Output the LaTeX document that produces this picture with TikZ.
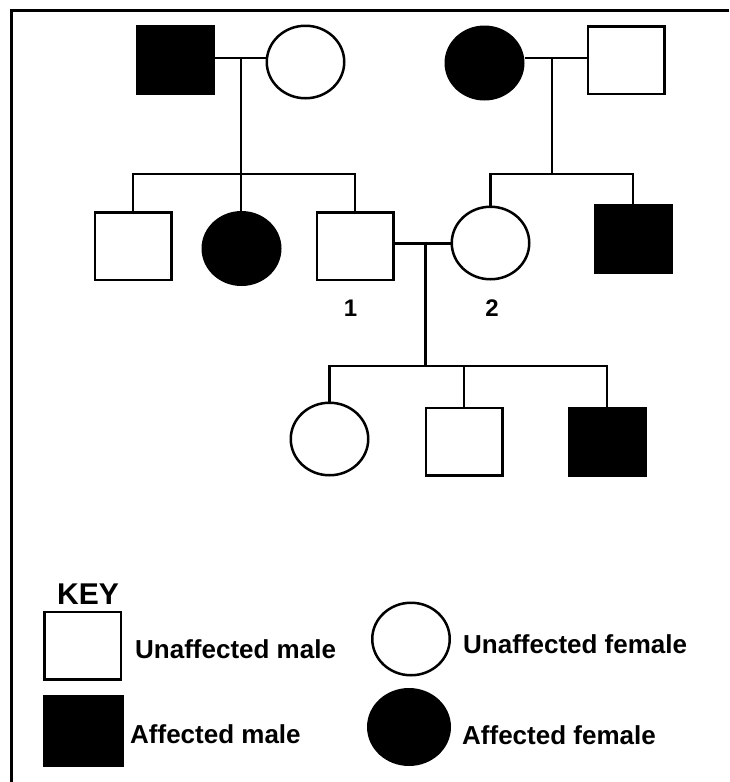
\documentclass[tikz,border=0pt]{standalone}
\usepackage{fontspec}
\setmainfont{Liberation Sans}
\usetikzlibrary{shapes.geometric}
\begin{document}
\begin{tikzpicture}[x=1pt,y=-1pt,
  male/.style={draw=black,line width=2.5pt,fill=white,rectangle,minimum width=76.5pt,minimum height=67.5pt,inner sep=0pt},
  amale/.style={male,fill=black},
  female/.style={draw=black,line width=2.5pt,fill=white,ellipse,minimum width=77.5pt,minimum height=72.5pt,inner sep=0pt},
  afemale/.style={female,fill=black},
  link/.style={line width=2.2pt},
  frame/.style={line width=3pt},
  lbl/.style={font=\bfseries\fontsize{24}{26}\selectfont,inner sep=0pt},
  keytxt/.style={font=\bfseries\fontsize{26}{28}\selectfont,inner sep=0pt,anchor=base west}]
\useasboundingbox (0,0) rectangle (729,782);
% frame
\coordinate (ftl) at (11,10);
\coordinate (ftr) at (729,10);
\coordinate (fbl) at (11,782);
\draw[frame] (ftr) -- (ftl) -- (fbl);
% generation I
\node[amale] (A) at (175.5,60) {};
\node[female] (B) at (305.5,62) {};
\node[afemale] (C) at (484.5,63) {};
\node[male] (D) at (626,60) {};
\coordinate (m1) at (241,58);
\coordinate (m2) at (552,58);
\draw[link] (A.east |- m1) -- (B.west |- m1);
\draw[link] (C.east |- m2) -- (D.west |- m2);
% generation II
\node[male] (E) at (133,246) {};
\node[afemale] (F) at (241.5,248.5) {};
\node[male] (G) at (355,246) {};
\node[female] (H) at (490.5,243) {};
\node[amale] (I) at (633,239) {};
\coordinate (s1) at (241,174);
\coordinate (s2) at (552,174);
\draw[link] (m1) -- (s1);
\draw[link] (m2) -- (s2);
\draw[link] (E.north) |- (s1) -| (G.north);
\draw[link] (s1) -- (s1 |- F.north);
\draw[link] (H.north) |- (s2) -| (I.north);
\coordinate (m3) at (425.5,243.5);
\draw[link] (G.east |- m3) -- (H.west |- m3);
\node[lbl] (n1) at (350.5,308.5) {1};
\node[lbl] (n2) at (492,308.5) {2};
% generation III
\node[female] (J) at (329.5,439) {};
\node[male] (K) at (464,441.5) {};
\node[amale] (L) at (607,441.5) {};
\coordinate (s3) at (425.5,366);
\draw[link] (m3) -- (s3);
\draw[link] (J.north) |- (s3) -| (L.north);
\draw[link] (K.north) -- (K.north |- s3);
% key
\node[font=\bfseries\fontsize{30}{32}\selectfont,inner sep=0pt] (key) at (88,594) {KEY};
\node[male] (k1) at (82.5,645.5) {};
\node[keytxt] (t1) at (135,658) {Unaffected male};
\node[female] (k2) at (411,639) {};
\node[keytxt] (t2) at (463,653) {Unaffected female};
\node[amale,minimum width=78.5pt,minimum height=69.5pt] (k3) at (83.5,731) {};
\node[keytxt] (t3) at (130,743) {Affected male};
\node[afemale,minimum width=81.5pt,minimum height=75.5pt] (k4) at (409,727) {};
\node[keytxt] (t4) at (462,744) {Affected female};
\end{tikzpicture}
\end{document}
